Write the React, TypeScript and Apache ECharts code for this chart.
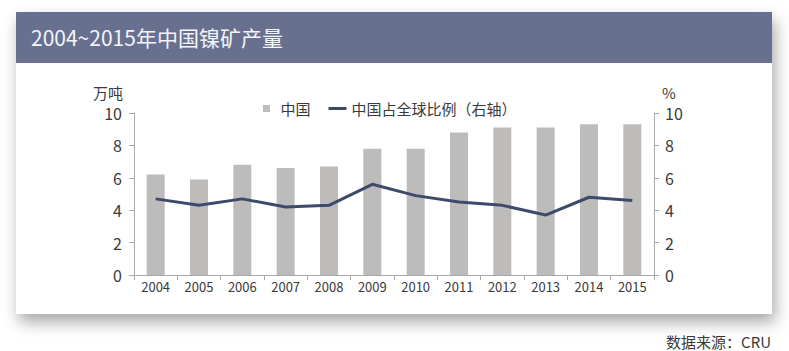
import React, { useEffect, useRef } from "react";
import * as echarts from "echarts";

const years = ["2004", "2005", "2006", "2007", "2008", "2009", "2010", "2011", "2012", "2013", "2014", "2015"];
const chinaOutput = [6.2, 5.9, 6.8, 6.6, 6.7, 7.8, 7.8, 8.8, 9.1, 9.1, 9.3, 9.3];
const chinaShare = [4.7, 4.3, 4.7, 4.2, 4.3, 5.6, 4.9, 4.5, 4.3, 3.7, 4.8, 4.6];
const titleText = "2004~2015年中国镍矿产量";
const sourceText = "数据来源：CRU";
const barName = "中国";
const lineName = "中国占全球比例（右轴）";

const FONT = "'Noto Sans CJK SC', 'Noto Sans', sans-serif";
const TXT = "#3a3a3a";
const AXIS = "#a8a8a8";

export default function App() {
  const ref = useRef<HTMLDivElement>(null);
  useEffect(() => {
    if (!ref.current) return;
    const chart = echarts.init(ref.current, undefined, { renderer: "svg" });
    chart.setOption({
      animation: false,
      backgroundColor: "#ffffff",
      textStyle: { fontFamily: FONT },
      graphic: [
        {
          type: "rect",
          z: -10,
          shape: { x: 16, y: 12, width: 756, height: 302 },
          style: {
            fill: "#ffffff",
            shadowBlur: 16,
            shadowColor: "rgba(0,0,0,0.35)",
            shadowOffsetX: 3,
            shadowOffsetY: 8,
          },
        },
        {
          type: "rect",
          z: -9,
          shape: { x: 16, y: 12, width: 756, height: 51 },
          style: { fill: "#67708f" },
        },
        {
          type: "text",
          x: 31,
          y: 37,
          style: {
            text: titleText,
            fill: "#f4f5f8",
            font: `21px ${FONT}`,
            verticalAlign: "middle",
          },
        },
        {
          type: "text",
          x: 108,
          y: 92,
          style: { text: "万吨", fill: TXT, font: `15px ${FONT}`, align: "center", verticalAlign: "middle" },
        },
        {
          type: "text",
          x: 669,
          y: 92,
          style: { text: "%", fill: TXT, font: `15px ${FONT}`, align: "center", verticalAlign: "middle" },
        },
        {
          type: "text",
          x: 771,
          y: 341,
          style: { text: sourceText, fill: TXT, font: `15px ${FONT}`, align: "right", verticalAlign: "middle" },
        },
      ],
      legend: {
        top: 96,
        left: 258,
        itemWidth: 18,
        itemHeight: 7,
        itemGap: 18,
        textStyle: { color: TXT, fontSize: 15, fontFamily: FONT },
        data: [
          { name: barName, icon: "path://M0,0h10v10h-10z" },
          { name: lineName, icon: "path://M0,0h24v4h-24z", itemStyle: { color: "#3d4a6c" } },
        ],
      },
      grid: { left: 134, right: 135, top: 113, bottom: 76, containLabel: false },
      xAxis: {
        type: "category",
        data: years,
        boundaryGap: true,
        axisLine: { lineStyle: { color: AXIS, width: 1 } },
        axisTick: { show: true, length: 5, lineStyle: { color: AXIS } },
        axisLabel: { color: TXT, fontSize: 13, margin: 5, fontFamily: FONT },
      },
      yAxis: [
        {
          type: "value",
          min: 0,
          max: 10,
          interval: 2,
          splitLine: { show: false },
          axisLine: { show: true, lineStyle: { color: AXIS } },
          axisTick: { show: true, length: 5, lineStyle: { color: AXIS } },
          axisLabel: { color: TXT, fontSize: 16, margin: 12, fontFamily: FONT },
        },
        {
          type: "value",
          min: 0,
          max: 10,
          interval: 2,
          position: "right",
          splitLine: { show: false },
          axisLine: { show: true, lineStyle: { color: AXIS } },
          axisTick: { show: true, length: 5, lineStyle: { color: AXIS } },
          axisLabel: { color: TXT, fontSize: 16, margin: 11, fontFamily: FONT },
        },
      ],
      series: [
        {
          name: barName,
          type: "bar",
          data: chinaOutput,
          barWidth: 18,
          itemStyle: { color: "#bebcba" },
          z: 2,
        },
        {
          name: lineName,
          type: "line",
          yAxisIndex: 1,
          data: chinaShare,
          symbol: "none",
          lineStyle: { color: "#3d4a6c", width: 3 },
          itemStyle: { color: "#3d4a6c" },
          z: 3,
        },
      ],
    });
    return () => chart.dispose();
  }, []);
  return (
    <div
      ref={ref}
      style={{ position: "absolute", left: 0, top: 0, width: 789, height: 351 }}
    />
  );
}
